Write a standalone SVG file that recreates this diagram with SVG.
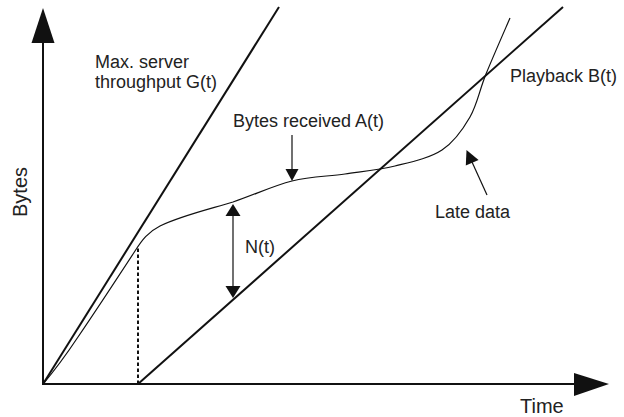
<svg xmlns="http://www.w3.org/2000/svg" width="624" height="417" viewBox="0 0 624 417">
<style>
.lbl{font-family:"Liberation Sans",Arial,sans-serif;font-size:18px;fill:#222}
.ax{font-family:"Liberation Sans",Arial,sans-serif;font-size:20px;fill:#222}
.thick{stroke:#111;stroke-width:2;fill:none}
.thin{stroke:#111;stroke-width:1.2;fill:none}
.head{fill:#111;stroke:none}
</style>
<rect width="624" height="417" fill="#fff"/>
<g id="axes">
<line class="thick" x1="43" y1="385" x2="43" y2="40"/>
<polygon class="head" points="43,8 31.5,43 54.5,43"/>
<line class="thick" x1="42" y1="384" x2="576" y2="384"/>
<polygon class="head" points="609,384 574,373 574,396"/>
<text class="ax" transform="translate(27,217) rotate(-90)">Bytes</text>
<text class="ax" x="520" y="413">Time</text>
</g>
<g id="curves">
<line id="G" class="thick" x1="43" y1="384" x2="279" y2="7"/>
<line id="B" class="thick" x1="138" y1="384" x2="563" y2="7"/>
<line id="startup" x1="138" y1="384" x2="138" y2="247" stroke="#111" stroke-width="2" stroke-dasharray="3.5 2.5"/>
<path id="A" class="thin" d="M43,384 C55,370 68,352 78,337 C95,312 120,274 135,251 C142,240 148,232 160,226 C180,216 210,209 233,202 C254.2,194.8 273.3,185.7 292,181 C310.7,176.3 327.8,176.5 345,174 C362.2,171.5 378.8,170 395,166 C411.2,162 429.5,158.2 442,150 C454.5,141.8 462.7,129.7 470,117 C477.3,104.3 479.3,90.5 486,74 C492.7,57.5 506,27.3 510,18"/>
</g>
<g id="labels">
<text class="lbl" x="95" y="68">Max. server</text>
<text class="lbl" x="95" y="88">throughput G(t)</text>
<text class="lbl" x="510" y="82">Playback B(t)</text>
<text class="lbl" x="233" y="127">Bytes received A(t)</text>
<text class="lbl" x="245" y="253">N(t)</text>
<text class="lbl" x="435" y="218">Late data</text>
</g>
<g id="connectors">
<line class="thin" x1="292" y1="135" x2="292" y2="170"/>
<polygon class="head" points="292,181 285.5,169 298.5,169"/>
<line class="thin" x1="233" y1="214" x2="233" y2="288"/>
<polygon class="head" points="233,204 225.5,216 240.5,216"/>
<polygon class="head" points="233,298 225.5,286 240.5,286"/>
<line class="thin" x1="487" y1="195" x2="472" y2="162"/>
<polygon class="head" points="466.5,150 478.6,160 465.8,165.6"/>
</g>
</svg>
